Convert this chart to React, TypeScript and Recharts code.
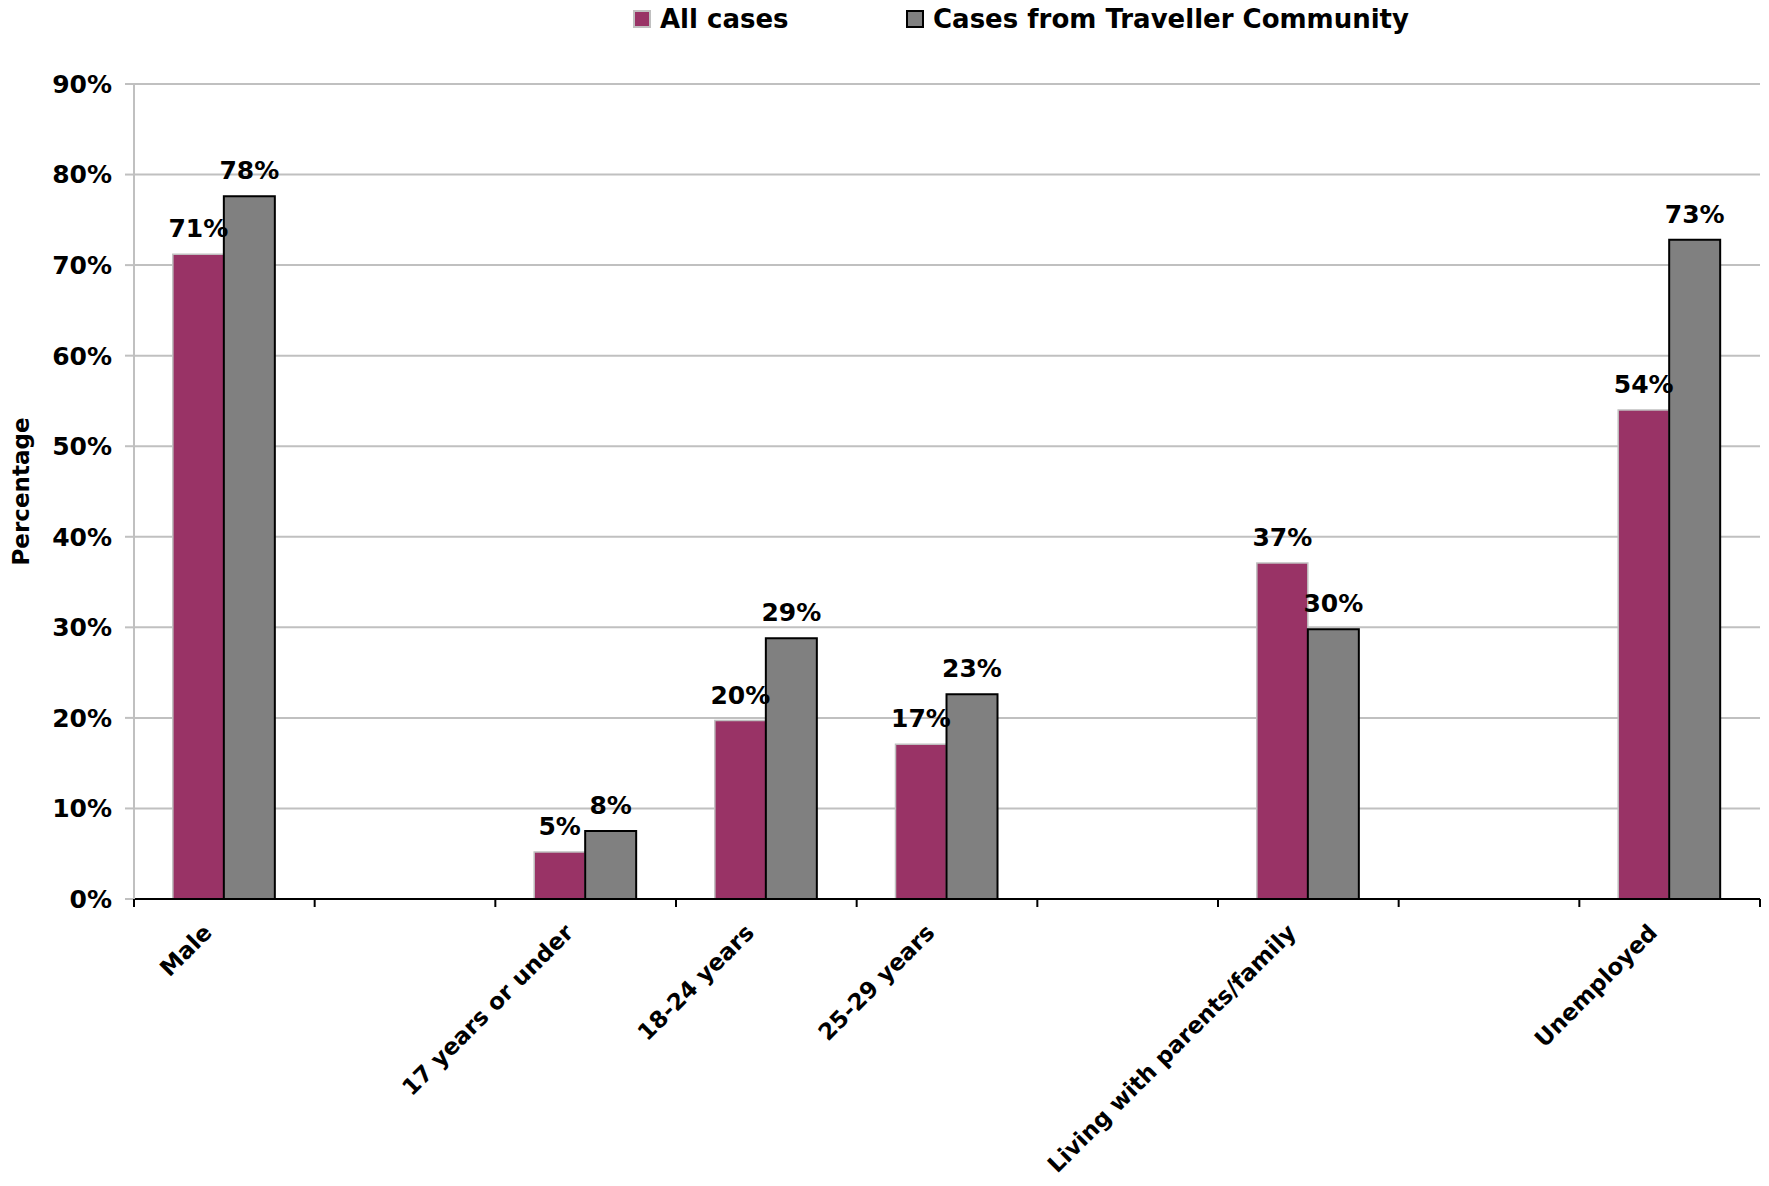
import React from 'react';
import { BarChart, Bar, XAxis, YAxis, CartesianGrid, Legend, LabelList } from 'recharts';

// categories (blank slots are gaps in the original Excel chart)
const categories = ['Male', '', '17 years or under', '18-24 years', '25-29 years', '', 'Living with parents/family', '', 'Unemployed'];
const allCases = [71.2, null, 5.2, 19.7, 17.1, null, 37.1, null, 54.0];
const travellerCases = [77.6, null, 7.5, 28.8, 22.6, null, 29.8, null, 72.8];
const yTicks = [0, 10, 20, 30, 40, 50, 60, 70, 80, 90];

const data = categories.map((name, i) => ({
  name,
  all: allCases[i],
  traveller: travellerCases[i],
}));

const W = 1769;
const H = 1186;
const LEFT = 134;
const RIGHT = 9;
const TOP = 84;
const BOTTOM = 287;
const LEGEND_H = 40;
const BAND = (W - LEFT - RIGHT) / categories.length;

const FONT = '"DejaVu Sans", Verdana, sans-serif';
const PURPLE = '#993366';
const GREY = '#808080';

const pct = (v: any) => (v == null ? '' : `${Math.round(v)}%`);

const CategoryTick = (props: any) => {
  const { x, y, payload, index } = props;
  const left = x - BAND / 2;
  const tx = x - 11;
  const ty = y + 35;
  return (
    <g>
      <line x1={left} y1={y} x2={left} y2={y + 8} stroke="#000" strokeWidth={2} />
      {index === categories.length - 1 && (
        <line x1={x + BAND / 2} y1={y} x2={x + BAND / 2} y2={y + 8} stroke="#000" strokeWidth={2} />
      )}
      {payload.value && (
        <text
          x={tx}
          y={ty}
          transform={`rotate(-45, ${tx}, ${ty})`}
          textAnchor="end"
          fontFamily={FONT}
          fontWeight="bold"
          fontSize={23}
          fill="#000"
        >
          {payload.value}
        </text>
      )}
    </g>
  );
};

const LegendBox = () => (
  <div style={{ position: 'relative', height: LEGEND_H, fontFamily: FONT, fontWeight: 'bold', fontSize: 26, lineHeight: '30px' }}>
    <div style={{ position: 'absolute', left: 633, top: 4, display: 'flex', alignItems: 'center' }}>
      <span style={{ width: 14, height: 14, background: PURPLE, border: '2px solid #c0c0c0', marginRight: 9 }} />
      <span>All cases</span>
    </div>
    <div style={{ position: 'absolute', left: 906, top: 4, display: 'flex', alignItems: 'center' }}>
      <span style={{ width: 14, height: 14, background: GREY, border: '2px solid #000', marginRight: 9 }} />
      <span>Cases from Traveller Community</span>
    </div>
  </div>
);

const YLabel = () => {
  const cy = TOP + (H - TOP - BOTTOM) / 2;
  return (
    <text
      x={21}
      y={cy}
      transform={`rotate(-90, 21, ${cy})`}
      textAnchor="middle"
      dominantBaseline="central"
      fontFamily={FONT}
      fontWeight="bold"
      fontSize={23}
      fill="#000"
    >
      Percentage
    </text>
  );
};

const labelStyle = { fontFamily: FONT, fontWeight: 'bold', fontSize: 25, fill: '#000' };

export default function App() {
  return (
    <div style={{ position: 'absolute', left: 0, top: 0, background: '#fff' }}>
      <BarChart
        width={W}
        height={H}
        data={data}
        margin={{ top: TOP - LEGEND_H, right: RIGHT, bottom: 0, left: 0 }}
        barCategoryGap="21.5%"
        barGap={0}
      >
        <CartesianGrid vertical={false} stroke="#c0c0c0" strokeWidth={2} />
        <XAxis
          dataKey="name"
          tick={<CategoryTick />}
          tickLine={false}
          tickSize={0}
          tickMargin={0}
          interval={0}
          axisLine={{ stroke: '#000', strokeWidth: 2 }}
          height={BOTTOM}
        />
        <YAxis
          width={LEFT}
          domain={[0, 90]}
          ticks={yTicks}
          interval={0}
          tickFormatter={(v) => `${v}%`}
          tickSize={9}
          tickMargin={13}
          tickLine={{ stroke: '#c0c0c0', strokeWidth: 2 }}
          axisLine={{ stroke: '#c0c0c0', strokeWidth: 2 }}
          tick={labelStyle}
          label={<YLabel />}
        />
        <Legend verticalAlign="top" content={<LegendBox />} wrapperStyle={{ top: 0, left: 0, width: W, height: LEGEND_H }} />
        <Bar dataKey="all" name="All cases" fill={PURPLE} stroke="#c0c0c0" strokeWidth={1.5} isAnimationActive={false}>
          <LabelList dataKey="all" position="top" offset={17} formatter={pct} style={labelStyle} />
        </Bar>
        <Bar
          dataKey="traveller"
          name="Cases from Traveller Community"
          fill={GREY}
          stroke="#000"
          strokeWidth={2}
          isAnimationActive={false}
        >
          <LabelList dataKey="traveller" position="top" offset={17} formatter={pct} style={labelStyle} />
        </Bar>
      </BarChart>
    </div>
  );
}
